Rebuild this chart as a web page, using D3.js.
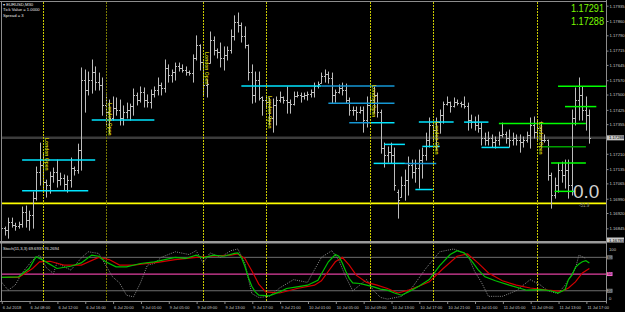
<!DOCTYPE html>
<html><head><meta charset="utf-8">
<script src="https://cdn.jsdelivr.net/npm/d3@7"></script>
<style>html,body{margin:0;padding:0;background:#000;}svg{display:block;}text{font-family:"Liberation Sans",Arial,sans-serif;}</style>
</head><body><svg id="c" width="625" height="312"></svg>
<script>
// ---------- DATA (EURUSD M30, 6 Jul 2018 - 11 Jul 2018) ----------
const opens=[1.16910,1.16846,1.16836,1.16875,1.16861,1.16856,1.16865,1.16924,1.16885,1.16910,
1.16993,1.17120,1.17155,1.17071,1.17057,1.17101,1.17120,1.17081,1.17091,1.17061,
1.17081,1.17140,1.17130,1.17228,1.17571,1.17522,1.17571,1.17610,1.17561,1.17547,
1.17449,1.17414,1.17385,1.17434,1.17424,1.17385,1.17414,1.17424,1.17444,1.17498,
1.17473,1.17512,1.17473,1.17463,1.17502,1.17522,1.17547,1.17532,1.17630,1.17595,
1.17610,1.17640,1.17630,1.17620,1.17610,1.17605,1.17679,1.17743,1.17659,1.17547,
1.17654,1.17767,1.17718,1.17708,1.17679,1.17694,1.17718,1.17787,1.17855,1.17841,
1.17787,1.17743,1.17610,1.17498,1.17571,1.17488,1.17473,1.17463,1.17385,1.17449,
1.17473,1.17488,1.17473,1.17463,1.17453,1.17493,1.17498,1.17493,1.17498,1.17502,
1.17512,1.17542,1.17556,1.17591,1.17600,1.17581,1.17498,1.17512,1.17532,1.17522,
1.17473,1.17424,1.17424,1.17414,1.17424,1.17375,1.17449,1.17473,1.17498,1.17414,
1.17238,1.17204,1.17218,1.17204,1.17022,1.16998,1.17057,1.17081,1.17155,1.17120,
1.17140,1.17179,1.17204,1.17277,1.17351,1.17326,1.17365,1.17399,1.17453,1.17463,
1.17444,1.17463,1.17458,1.17453,1.17444,1.17375,1.17365,1.17351,1.17336,1.17287,
1.17277,1.17287,1.17267,1.17277,1.17302,1.17306,1.17287,1.17277,1.17287,1.17277,
1.17267,1.17277,1.17302,1.17351,1.17316,1.17336,1.17277,1.17277,1.17106,1.17008,
1.17057,1.17130,1.17106,1.17130,1.17057,1.17385,1.17473,1.17498,1.17424,1.17399];
const highs=[1.16934,1.16851,1.16895,1.16895,1.16870,1.16875,1.16949,1.16954,1.16929,1.17022,
1.17145,1.17262,1.17213,1.17081,1.17120,1.17140,1.17179,1.17115,1.17106,1.17101,
1.17189,1.17145,1.17257,1.17630,1.17620,1.17610,1.17669,1.17635,1.17605,1.17581,
1.17498,1.17473,1.17488,1.17483,1.17473,1.17444,1.17458,1.17453,1.17527,1.17507,
1.17537,1.17532,1.17498,1.17522,1.17537,1.17581,1.17556,1.17669,1.17645,1.17620,
1.17654,1.17654,1.17645,1.17635,1.17615,1.17694,1.17787,1.17743,1.17659,1.17571,
1.17806,1.17782,1.17723,1.17752,1.17733,1.17733,1.17816,1.17885,1.17899,1.17850,
1.17831,1.17743,1.17645,1.17610,1.17610,1.17488,1.17488,1.17483,1.17478,1.17488,
1.17512,1.17488,1.17537,1.17473,1.17512,1.17512,1.17507,1.17507,1.17512,1.17522,
1.17556,1.17561,1.17605,1.17620,1.17610,1.17605,1.17522,1.17547,1.17556,1.17551,
1.17483,1.17439,1.17439,1.17439,1.17439,1.17488,1.17498,1.17537,1.17507,1.17424,
1.17262,1.17243,1.17262,1.17238,1.17032,1.17096,1.17130,1.17194,1.17179,1.17179,
1.17228,1.17238,1.17311,1.17385,1.17351,1.17385,1.17424,1.17463,1.17488,1.17463,
1.17483,1.17473,1.17463,1.17488,1.17458,1.17399,1.17390,1.17399,1.17360,1.17311,
1.17316,1.17302,1.17292,1.17316,1.17360,1.17316,1.17326,1.17311,1.17302,1.17302,
1.17292,1.17316,1.17385,1.17390,1.17375,1.17365,1.17302,1.17277,1.17115,1.17091,
1.17164,1.17169,1.17179,1.17179,1.17424,1.17532,1.17581,1.17537,1.17488,1.17424];
const lows=[1.16807,1.16812,1.16797,1.16851,1.16836,1.16846,1.16851,1.16851,1.16836,1.16846,
1.16983,1.17057,1.17032,1.16998,1.17017,1.17071,1.17047,1.17057,1.17032,1.17022,
1.17047,1.17106,1.17115,1.17130,1.17414,1.17498,1.17507,1.17522,1.17522,1.17399,
1.17351,1.17311,1.17375,1.17399,1.17351,1.17351,1.17385,1.17375,1.17399,1.17449,
1.17463,1.17439,1.17439,1.17434,1.17488,1.17498,1.17498,1.17512,1.17561,1.17561,
1.17571,1.17615,1.17610,1.17595,1.17595,1.17561,1.17669,1.17620,1.17498,1.17488,
1.17654,1.17694,1.17679,1.17635,1.17620,1.17669,1.17703,1.17767,1.17806,1.17757,
1.17728,1.17571,1.17458,1.17463,1.17473,1.17399,1.17434,1.17351,1.17316,1.17351,
1.17463,1.17458,1.17409,1.17409,1.17449,1.17488,1.17463,1.17478,1.17473,1.17488,
1.17488,1.17532,1.17556,1.17561,1.17556,1.17458,1.17463,1.17507,1.17498,1.17458,
1.17399,1.17399,1.17375,1.17409,1.17316,1.17341,1.17414,1.17409,1.17390,1.17213,
1.17145,1.17169,1.17164,1.17032,1.16895,1.16998,1.16983,1.17008,1.17091,1.17071,
1.17042,1.17091,1.17179,1.17243,1.17277,1.17228,1.17311,1.17360,1.17449,1.17414,
1.17439,1.17449,1.17439,1.17434,1.17326,1.17336,1.17326,1.17316,1.17253,1.17253,
1.17253,1.17243,1.17238,1.17253,1.17292,1.17262,1.17243,1.17253,1.17253,1.17218,
1.17243,1.17267,1.17238,1.17287,1.17277,1.17238,1.17267,1.17081,1.16944,1.16993,
1.17022,1.17071,1.17042,1.16993,1.17008,1.17351,1.17375,1.17375,1.17326,1.17262];
const closes=[1.16846,1.16836,1.16875,1.16861,1.16856,1.16865,1.16924,1.16885,1.16910,1.16993,
1.17120,1.17155,1.17071,1.17057,1.17101,1.17120,1.17081,1.17091,1.17061,1.17081,
1.17140,1.17130,1.17228,1.17571,1.17522,1.17571,1.17610,1.17561,1.17547,1.17449,
1.17414,1.17385,1.17434,1.17424,1.17385,1.17414,1.17424,1.17444,1.17498,1.17473,
1.17512,1.17473,1.17463,1.17502,1.17522,1.17547,1.17532,1.17630,1.17595,1.17610,
1.17640,1.17630,1.17620,1.17610,1.17605,1.17679,1.17743,1.17659,1.17547,1.17551,
1.17767,1.17718,1.17708,1.17679,1.17694,1.17718,1.17787,1.17855,1.17841,1.17787,
1.17743,1.17610,1.17498,1.17571,1.17483,1.17473,1.17463,1.17385,1.17449,1.17473,
1.17488,1.17473,1.17463,1.17453,1.17493,1.17498,1.17493,1.17498,1.17502,1.17512,
1.17542,1.17551,1.17591,1.17600,1.17581,1.17498,1.17512,1.17532,1.17522,1.17473,
1.17424,1.17424,1.17414,1.17424,1.17375,1.17449,1.17473,1.17498,1.17414,1.17238,
1.17204,1.17218,1.17204,1.17057,1.16983,1.17057,1.17081,1.17155,1.17120,1.17140,
1.17179,1.17204,1.17277,1.17351,1.17326,1.17365,1.17399,1.17453,1.17463,1.17444,
1.17463,1.17458,1.17453,1.17444,1.17375,1.17365,1.17351,1.17336,1.17287,1.17277,
1.17287,1.17267,1.17277,1.17302,1.17306,1.17287,1.17277,1.17287,1.17277,1.17267,
1.17277,1.17302,1.17351,1.17316,1.17336,1.17277,1.17277,1.17106,1.17008,1.17057,
1.17130,1.17106,1.17130,1.17057,1.17385,1.17473,1.17498,1.17424,1.17399,1.17288];

const timeLabels=["6 Jul 2018","6 Jul 08:00","6 Jul 12:00","6 Jul 16:00","6 Jul 20:00","9 Jul 01:00","9 Jul 05:00","9 Jul 09:00","9 Jul 13:00","9 Jul 17:00","9 Jul 21:00","10 Jul 01:00","10 Jul 05:00","10 Jul 09:00","10 Jul 13:00","10 Jul 17:00","10 Jul 21:00","11 Jul 01:00","11 Jul 05:00","11 Jul 09:00","11 Jul 13:00","11 Jul 17:00"];
const timeLabelBars=[0,8,16,24,32,40,48,56,64,72,80,88,96,104,112,120,128,136,144,152,160,168];
const priceTicks=[1.17935,1.17860,1.17790,1.17715,1.17645,1.17570,1.17500,1.17425,1.17355,1.17210,1.17135,1.17065,1.16990,1.16920,1.16845];
const bidPrice=1.17288, askPrice=1.17291;

const sessionBars=[12,30,58,76,106,124,154];
const sessionLabelPrice=[1.17287,1.17458,1.17708,1.17493,1.17547,1.17365,1.17365];
const sessionText="London Open";

const levelPrice=[1.17179,1.17029,1.17375,1.17542,1.17542,1.17457,1.17362,1.17362,1.17256,1.17163,1.17163,1.17035,1.17246,1.17365,1.17365,1.17241,1.17358,1.17540,1.17441,1.17244,1.17165,1.17026];
const levelFrom =[6,6,26,69,92,94,100,106,110,107,116,119,121,120,133,138,143,160,162,155,158,159];
const levelTo   =[27,25,44,92,113,113,106,113,116,116,125,124,126,130,140,146,168,175,171,168,168,165];
const levelKind =["c","c","c","c","b","b","b","c","c","c","b","c","c","c","c","c","g","g","g","d","g","g"];
const supportPrice=1.16967;

const stochLabel="Stoch(11,3,3) 69.6937 76.2694";
const mainIdx=[0,5,8,10,12,16,20,23,26,28,30,33,36,40,44,47,50,53,56,58,61,64,67,68,69,70,71,72,73,74,77,80,82,85,88,91,92,94,96,97,98,99,100,101,103,105,107,109,111,113,115,117,120,123,126,129,131,133,135,137,139,142,146,151,155,158,160,162,163,164,165,166,167,168,169];
const mainVal=[44,45,60,81,75,60,64,70,84,82,72,63,63,69,72,76,80,78,84,79,84,82,87,88,80,64,44,28,18,12,11,18,24,27,30,39,50,72,85,82,70,55,42,34,33,30,27,23,21,16,12,18,28,40,65,85,92,88,75,58,45,38,30,21,22,20,16,22,40,48,62,68,72,74,70];
const sigIdx=[0,5,9,11,14,18,23,28,31,34,38,42,45,50,56,60,66,68,70,72,74,76,80,85,90,92,94,96,98,100,102,105,108,111,114,117,120,123,127,131,134,137,140,144,148,152,157,161,163,165,167,169];
const sigVal=[44,44,60,72,73,66,66,80,76,66,66,69,71,76,80,82,84,86,78,56,32,18,16,24,30,38,55,72,80,66,48,35,30,24,16,21,28,36,60,82,86,70,52,38,30,25,21,19,25,36,52,60];
const fastIdx=[0,2,4,6,9,11,13,15,16,20,23,25,28,30,32,34,36,38,40,42,44,46,50,54,56,58,60,63,66,68,70,72,74,77,80,84,88,92,95,97,99,101,103,105,107,109,111,115,118,122,126,130,134,136,138,140,144,148,152,155,157,160,162,165,166,168];
const fastVal=[36,21,30,52,75,84,61,51,70,57,79,90,87,66,45,34,12,9,34,66,69,80,90,85,92,70,88,80,92,95,70,15,8,10,25,40,35,80,92,75,45,20,30,40,20,8,5,10,25,60,90,95,85,55,35,10,10,20,40,30,20,15,30,60,84,78];
const stochLevels=[80,50,20];

// ---------- DRAW ----------
const svg=d3.select("#c");
const plotL=1.5, plotR=606, mainTop=2, mainBot=241, stTop=244, stBot=301.5;
const x=d3.scaleLinear().domain([0,169]).range([1.24,1.24+169*3.48]);
const y=d3.scaleLinear().domain([1.16783,1.17953]).range([mainBot,mainTop]);
const ys=d3.scaleLinear().domain([0,100]).range([301.9,246.2]);
const px=i=>Math.round(x(i))+0.5;

svg.append("rect").attr("width",625).attr("height",312).attr("fill","#000");
const defs=svg.append("defs");
defs.append("clipPath").attr("id","cm").append("rect").attr("x",2).attr("y",mainTop).attr("width",plotR-2).attr("height",mainBot-mainTop);
defs.append("clipPath").attr("id","cs").append("rect").attr("x",2).attr("y",stTop).attr("width",plotR-2).attr("height",stBot-stTop);

const gm=svg.append("g").attr("clip-path","url(#cm)");
const gs=svg.append("g").attr("clip-path","url(#cs)");

// bid line
gm.append("line").attr("x1",0).attr("x2",plotR).attr("y1",y(bidPrice)).attr("y2",y(bidPrice)).attr("stroke","#3c3c3c").attr("stroke-width",2.5);

// session vertical lines
sessionBars.forEach((b,k)=>{
  svg.append("line").attr("x1",px(b)).attr("x2",px(b)).attr("y1",mainTop).attr("y2",stBot)
    .attr("stroke",k===1?"#7a7a00":"#c8c800").attr("stroke-width",1).attr("stroke-dasharray","2,1");
});

// support line
gm.append("line").attr("x1",0).attr("x2",plotR).attr("y1",y(supportPrice)).attr("y2",y(supportPrice)).attr("stroke","#ffff00").attr("stroke-width",1.6);

// bars
const bars=gm.append("g").attr("stroke","#bdbdbd").attr("stroke-width",1);
opens.forEach((o,i)=>{
  const cx=px(i);
  bars.append("line").attr("x1",cx).attr("x2",cx).attr("y1",y(highs[i])-0.5).attr("y2",y(lows[i])+0.5);
  bars.append("line").attr("x1",cx-1.5).attr("x2",cx).attr("y1",Math.round(y(o))+0.5).attr("y2",Math.round(y(o))+0.5);
  bars.append("line").attr("x1",cx).attr("x2",cx+1.5).attr("y1",Math.round(y(closes[i]))+0.5).attr("y2",Math.round(y(closes[i]))+0.5);
});

// level segments
const kindColor={c:"#00e5ff",b:"#1597d4",g:"#00ff00",d:"#00a000"};
levelPrice.forEach((p,k)=>{
  gm.append("line").attr("x1",x(levelFrom[k])).attr("x2",x(levelTo[k])).attr("y1",y(p)).attr("y2",y(p))
    .attr("stroke",kindColor[levelKind[k]]).attr("stroke-width",1.5);
});

// session labels
sessionBars.forEach((b,k)=>{
  gm.append("text").attr("transform",`translate(${px(b)+1.5},${y(sessionLabelPrice[k])}) rotate(90)`)
    .attr("fill","#c8c800").attr("font-size",5).attr("font-weight","bold").text(sessionText);
});

// frame
const frame=svg.append("g").attr("stroke","#8c8c8c").attr("fill","none");
frame.append("line").attr("x1",0).attr("x2",plotR).attr("y1",1.5).attr("y2",1.5);
frame.append("line").attr("x1",plotL).attr("x2",plotL).attr("y1",1).attr("y2",stBot);
frame.append("line").attr("x1",plotR+0.5).attr("x2",plotR+0.5).attr("y1",0).attr("y2",stBot+2);
svg.append("rect").attr("x",0).attr("y",mainBot).attr("width",plotR).attr("height",2.5).attr("fill","#9a9a9a");
frame.append("line").attr("x1",0).attr("x2",plotR).attr("y1",stBot).attr("y2",stBot);

// price axis
const pa=svg.append("g").attr("transform",`translate(${plotR+0.5},0)`)
  .call(d3.axisRight(y).tickValues(priceTicks).tickSize(2).tickFormat(d3.format(".5f")));
pa.select(".domain").remove();
pa.selectAll("line").attr("stroke","#8c8c8c");
pa.selectAll("text").attr("fill","#c8c8c8").attr("font-size",4.2).attr("x",3).attr("font-family","Liberation Sans");
// bid box
svg.append("rect").attr("x",plotR+1).attr("y",y(bidPrice)-2.5).attr("width",17).attr("height",5).attr("fill","#c8c8c8");
svg.append("text").attr("x",plotR+3).attr("y",y(bidPrice)+1.5).attr("font-size",4.2).attr("fill","#000").text(d3.format(".5f")(bidPrice));
svg.append("rect").attr("x",plotR+1).attr("y",mainBot-3.5).attr("width",17).attr("height",5).attr("fill","#c8c8c8");
svg.append("text").attr("x",plotR+3).attr("y",mainBot+0.5).attr("font-size",4.2).attr("fill","#000").text(d3.format(".5f")(y.domain()[0]));

// stoch levels
stochLevels.forEach(l=>{
  gs.append("line").attr("x1",0).attr("x2",plotR).attr("y1",ys(l)).attr("y2",ys(l))
    .attr("stroke",l===50?"#e040a0":"#6e6e6e").attr("stroke-width",l===50?1.3:1);
  svg.append("rect").attr("x",plotR+1).attr("y",ys(l)-2).attr("width",5.5).attr("height",4)
    .attr("fill",l===50?"#ff66cc":"#8c8c8c");
  svg.append("text").attr("x",plotR+1.5).attr("y",ys(l)+1.3).attr("font-size",3.6).attr("fill","#000").text(l);
});
svg.append("text").attr("x",plotR+3).attr("y",250.5).attr("font-size",4.2).attr("fill","#c8c8c8").text("100");
svg.append("text").attr("x",plotR+3).attr("y",300).attr("font-size",4.2).attr("fill","#c8c8c8").text("0");

const sline=d3.line().x(d=>x(d[0])).y(d=>ys(d[1]));
gs.append("path").attr("d",sline(fastIdx.map((b,k)=>[b,fastVal[k]]))).attr("fill","none").attr("stroke","#8a8a8a").attr("stroke-width",1).attr("stroke-dasharray","1,1.2");
gs.append("path").attr("d",sline(sigIdx.map((b,k)=>[b,sigVal[k]]))).attr("fill","none").attr("stroke","#d00000").attr("stroke-width",1.2);
gs.append("path").attr("d",sline(mainIdx.map((b,k)=>[b,mainVal[k]]))).attr("fill","none").attr("stroke","#00c000").attr("stroke-width",1.2);
svg.append("text").attr("x",3).attr("y",250).attr("font-size",4.1).attr("fill","#e0e0e0").text(stochLabel);

// time axis
const ta=svg.append("g").attr("transform",`translate(0,${stBot})`)
  .call(d3.axisBottom(x).tickValues(timeLabelBars).tickSize(2.5).tickFormat((d,k)=>timeLabels[k]));
ta.select(".domain").remove();
ta.selectAll("line").attr("stroke","#8c8c8c").attr("transform","translate(0.5,0)");
ta.selectAll("text").attr("fill","#c8c8c8").attr("font-size",4).attr("text-anchor","start").attr("dx",1).attr("y",4.5).attr("font-family","Liberation Sans");

// info texts
const info=["\u25BE EURUSD,M30","Tick Value = 1.0000","Spread = 3"];
info.forEach((t,k)=>svg.append("text").attr("x",3).attr("y",6+k*5.3).attr("font-size",4.2).attr("fill","#e8e8e8").text(t));
svg.append("text").attr("x",604).attr("y",12).attr("text-anchor","end").attr("font-size",11).attr("fill","#7cfc00").attr("textLength",33).attr("lengthAdjust","spacingAndGlyphs").text(d3.format(".5f")(askPrice));
svg.append("text").attr("x",604).attr("y",25).attr("text-anchor","end").attr("font-size",11).attr("fill","#7cfc00").attr("textLength",33).attr("lengthAdjust","spacingAndGlyphs").text(d3.format(".5f")(bidPrice));
svg.append("text").attr("x",573).attr("y",198).attr("font-size",19).attr("fill","#d0d0d0").text("0.0");
svg.append("text").attr("x",579).attr("y",207).attr("font-size",4.5).attr("fill","#909090").text("-51.9");
</script></body></html>
